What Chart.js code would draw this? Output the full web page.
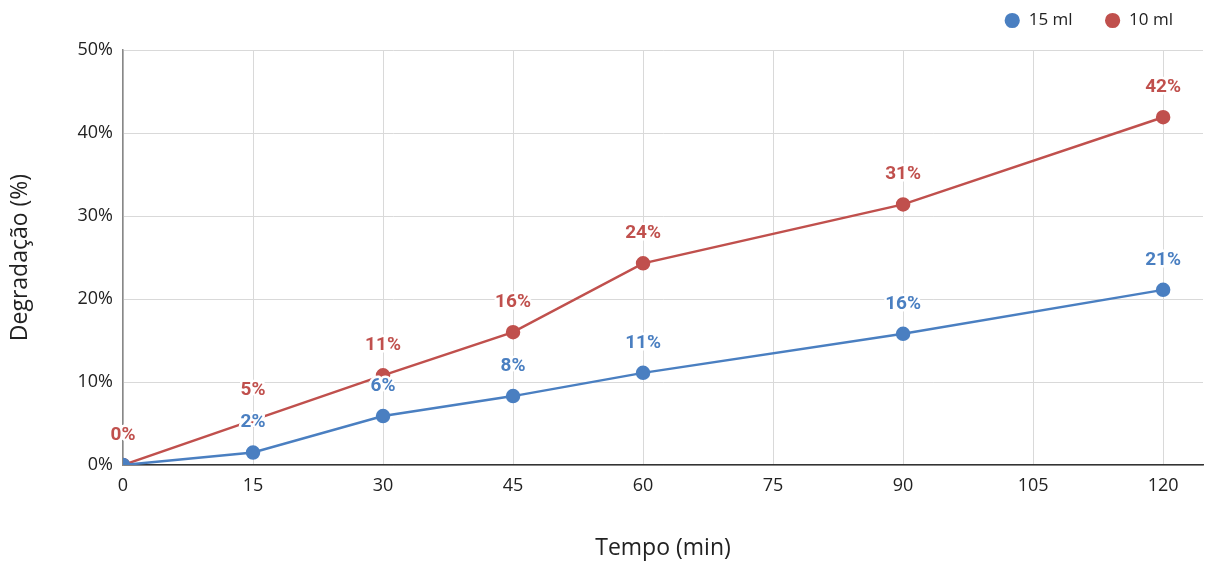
<!DOCTYPE html>
<html>
<head>
<meta charset="utf-8">
<script src="https://cdn.jsdelivr.net/npm/chart.js@4.4.1/dist/chart.umd.min.js"></script>
<style>
  html, body { margin: 0; padding: 0; background: #fff; }
  #wrap { width: 1205px; height: 565px; }
</style>
</head>
<body>
<div id="wrap"><canvas id="chart"></canvas></div>
<script>
// Data
const tempos = [0, 15, 30, 45, 60, 90, 120];
const xTicks = [0, 15, 30, 45, 60, 75, 90, 105, 120];
const serie15ml = [0, 1.5, 5.9, 8.3, 11.1, 15.8, 21.1];
const serie10ml = [0, 5.4, 10.8, 16.0, 24.3, 31.4, 41.9];
const yTicks = [0, 10, 20, 30, 40, 50];

const BLUE = '#4a7fc1';
const RED = '#c0504d';

// Value labels above each point (white halo, drawn over the lines)
const pointLabels = {
    id: 'pointLabels',
    afterDatasetsDraw(chart) {
        const ctx = chart.ctx;
        ctx.save();
        ctx.font = 'bold 19px Roboto';
        ctx.textAlign = 'center';
        ctx.textBaseline = 'middle';
        ctx.lineJoin = 'round';
        chart.data.datasets.forEach((ds, i) => {
            const meta = chart.getDatasetMeta(i);
            meta.data.forEach((pt, j) => {
                const txt = Math.round(ds.data[j].y) + '%';
                ctx.strokeStyle = '#fff';
                ctx.lineWidth = 5;
                ctx.strokeText(txt, pt.x, pt.y - 30);
                ctx.fillStyle = ds.borderColor;
                ctx.fillText(txt, pt.x, pt.y - 30);
            });
        });
        ctx.restore();
    }
};

// Fix legend height and move it where the reference has it
const legendLayout = {
    id: 'legendLayout',
    afterInit(chart) {
        const fit = chart.legend.fit;
        chart.legend.fit = function () {
            fit.bind(chart.legend)();
            this.height = 50;
        };
    },
    afterLayout(chart) {
        chart.legend.right += 2;
        chart.legend.top -= 20;
    }
};

function toPoints(values) {
    return tempos.map((t, i) => ({ x: t, y: values[i] }));
}

new Chart(document.getElementById('chart'), {
    type: 'line',
    data: {
        datasets: [
            {
                label: '15 ml',
                data: toPoints(serie15ml),
                borderColor: BLUE,
                backgroundColor: BLUE,
                borderWidth: 2.5,
                pointRadius: 6,
                pointHoverRadius: 6,
                tension: 0
            },
            {
                label: '10 ml',
                data: toPoints(serie10ml),
                borderColor: RED,
                backgroundColor: RED,
                borderWidth: 2.5,
                pointRadius: 6,
                pointHoverRadius: 6,
                tension: 0
            }
        ]
    },
    options: {
        responsive: true,
        maintainAspectRatio: false,
        animation: false,
        layout: { autoPadding: false, padding: { left: 0, right: 2, top: 0, bottom: 0 } },
        plugins: {
            legend: {
                position: 'top',
                align: 'end',
                labels: {
                    usePointStyle: true,
                    pointStyle: 'circle',
                    boxWidth: 16,
                    boxHeight: 9,
                    padding: 32,
                    color: '#222',
                    font: { family: 'Open Sans', size: 17 }
                }
            },
            tooltip: { enabled: false }
        },
        scales: {
            x: {
                type: 'linear',
                min: 0,
                max: 124.6,
                afterBuildTicks(scale) {
                    scale.ticks = xTicks.map(v => ({ value: v }));
                },
                afterFit(scale) {
                    scale.height = 100;
                    scale.paddingLeft = 0;
                    scale.paddingRight = 0;
                },
                grid: { color: '#d9d9d9', lineWidth: 1, drawTicks: false },
                border: { color: '#333', width: 1.5 },
                ticks: {
                    padding: 10,
                    color: '#222',
                    font: { family: 'Open Sans', size: 18 }
                },
                title: {
                    display: true,
                    text: 'Tempo (min)',
                    color: '#222',
                    font: { family: 'Open Sans', size: 23 },
                    padding: { top: 0, bottom: 3 }
                }
            },
            y: {
                min: 0,
                max: 50,
                afterBuildTicks(scale) {
                    scale.ticks = yTicks.map(v => ({ value: v }));
                },
                afterFit(scale) { scale.width = 123; },
                grid: { color: '#d9d9d9', lineWidth: 1, drawTicks: false },
                border: { color: '#888', width: 1.5 },
                ticks: {
                    padding: 10,
                    color: '#222',
                    font: { family: 'Open Sans', size: 18 },
                    callback: v => v + '%'
                },
                title: {
                    display: true,
                    text: 'Degradação (%)',
                    color: '#222',
                    font: { family: 'Open Sans', size: 23 },
                    padding: { top: 7, bottom: 0 }
                }
            }
        }
    },
    plugins: [pointLabels, legendLayout]
});
</script>
</body>
</html>
